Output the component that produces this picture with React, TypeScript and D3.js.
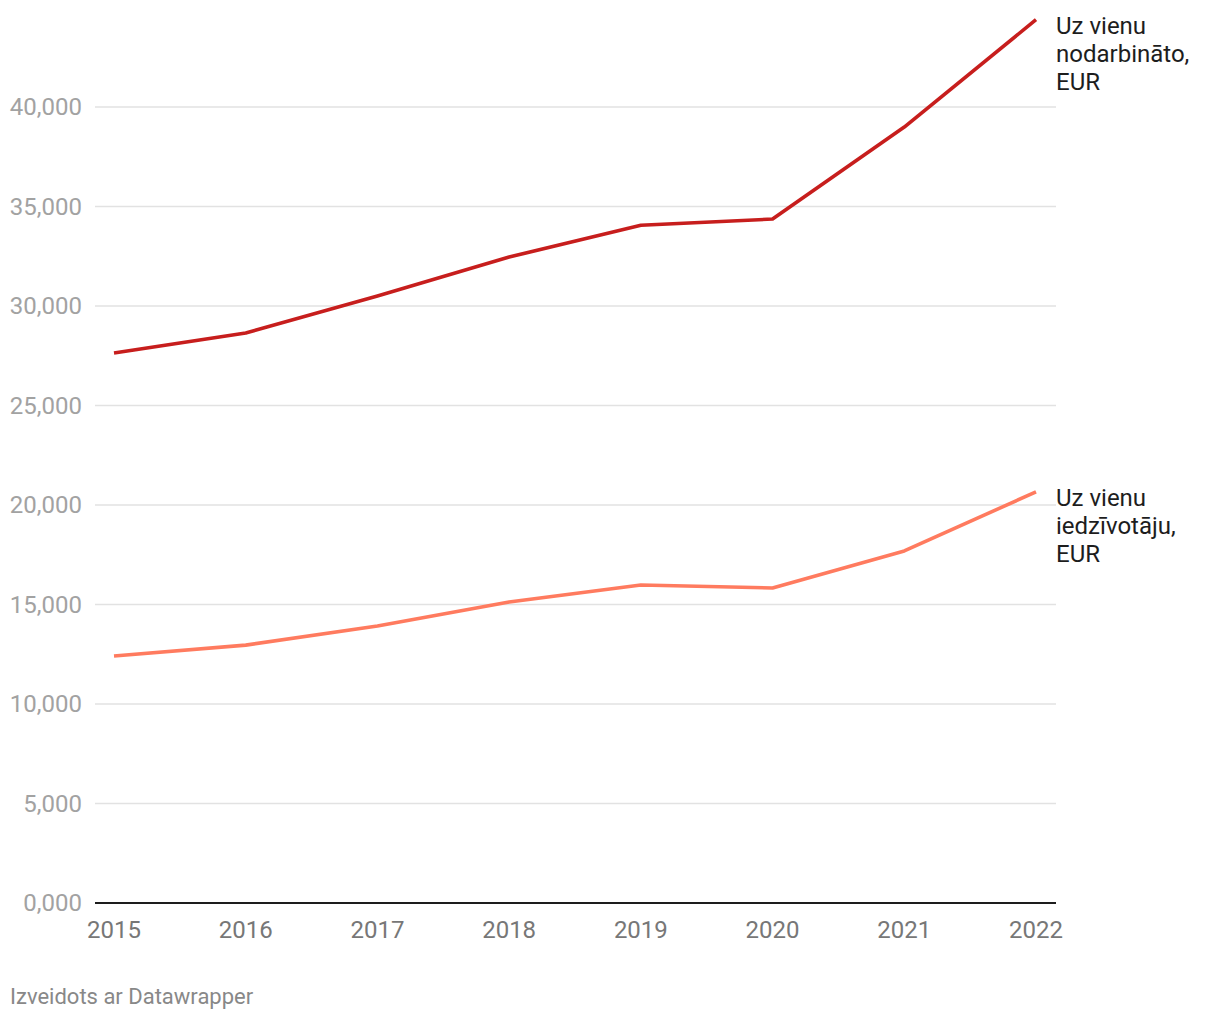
import React from "react";
import * as d3 from "d3";

const years = [2015, 2016, 2017, 2018, 2019, 2020, 2021, 2022];
const perEmployed = [27640, 28640, 30500, 32460, 34060, 34370, 38990, 44390];
const perResident = [12410, 12960, 13920, 15130, 15980, 15830, 17690, 20660];
const yTicks = [0, 5000, 10000, 15000, 20000, 25000, 30000, 35000, 40000];
const seriesLabels = [
  ["Uz vienu", "nodarbināto,", "EUR"],
  ["Uz vienu", "iedzīvotāju,", "EUR"],
];
const colors = ["#c71e1d", "#ff7b5f"];

export default function App() {
  const W = 1220, H = 1020;
  const x = d3.scaleLinear().domain([2015, 2022]).range([114, 1036]);
  const y = d3.scaleLinear().domain([0, 40000]).range([903, 107]);
  const line = d3.line<number>().x((_, i) => x(years[i])).y((d) => y(d));
  const fmt = (v: number) => (v === 0 ? "0,000" : d3.format(",")(v));
  const series = [perEmployed, perResident];
  return (
    <svg width={W} height={H} style={{ position: "absolute", left: 0, top: 0, fontFamily: "Roboto, sans-serif" }}>
      <rect width={W} height={H} fill="#fff" />
      {yTicks.filter((t) => t > 0).map((t) => (
        <line key={t} x1={95} x2={1056} y1={y(t)} y2={y(t)} stroke="#e2e2e2" strokeWidth={1.5} />
      ))}
      {yTicks.map((t) => (
        <text key={t} x={82} y={y(t)} dy="0.35em" textAnchor="end" fontSize={24} fill="#a2a2a2">
          {fmt(t)}
        </text>
      ))}
      <line x1={95} x2={1056} y1={y(0)} y2={y(0)} stroke="#1d1d1d" strokeWidth={2} />
      {years.map((yr) => (
        <text key={yr} x={x(yr)} y={938} textAnchor="middle" fontSize={24} fill="#777">
          {yr}
        </text>
      ))}
      {series.map((s, i) => (
        <path key={i} d={line(s) || ""} fill="none" stroke={colors[i]} strokeWidth={3.6} strokeLinejoin="round" />
      ))}
      {series.map((s, i) => (
        <text key={i} x={1056} y={y(s[s.length - 1]) + 14} fontSize={24} fill="#1d1d1d">
          {seriesLabels[i].map((l, j) => (
            <tspan key={j} x={1056} dy={j === 0 ? 0 : 28}>
              {l}
            </tspan>
          ))}
        </text>
      ))}
      <text x={10} y={1004} fontSize={22} fill="#888">
        Izveidots ar Datawrapper
      </text>
    </svg>
  );
}
